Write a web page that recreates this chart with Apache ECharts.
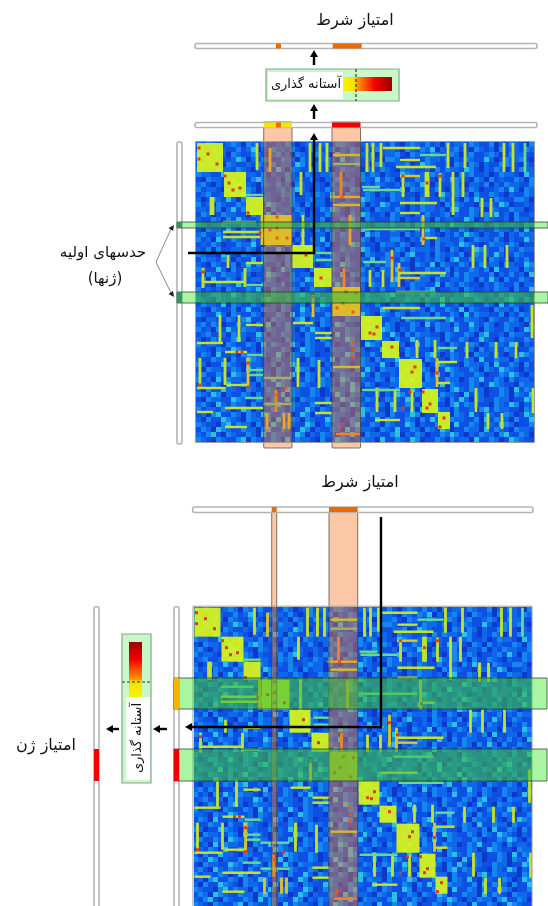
<!DOCTYPE html>
<html><head><meta charset="utf-8">
<style>html,body{margin:0;padding:0;background:#fff}#c{width:548px;height:906px;filter:blur(0.7px)}</style>
<script src="https://cdn.jsdelivr.net/npm/echarts@6/dist/echarts.min.js"></script>
</head><body><div id="c"></div>
<script>
// ---------- data ----------
const heatRows = [
"21321123203213112132012312213321021322131023213120312213211302132103",
"12032211312402132213101321230213212031221032132402123110321203122132",
"32113203211321023120321132104213221301223103221321132023112320132211",
"20312112430213211322031112320412312210332012113221302132114201322310",
"13221032112132031221431021322110312032112230143211203213202113321021",
"21103221321021314203211321201322103113210322112031322143102132011322",
"32211420132213021132103212231021131320211432120322110323112013221042",
"10322113021343112032211310223112032141320211323102143210320312113203",
"23102113422103213120321121031322012132112032143021123102213021322113",
"31221032113202112313421021322103211320211403221131023213201123142032",
"12311203243102211323012132141032113202132211023104213220311321021132",
"20132142031123210213112322031021143211032212032113122031421032113320",
"31203211321021432113203122011322130214311202132210313211032214301121",
"22113024132112031221320113243102112032213102132212034113210321132201",
"13201322110321403212130211322103143112032210213112302113203241203112",
"21132031421120321132102213011324203211132021132031221143013211203221",
"32011321132201341321120312203114321022131120321132042211320131221032",
"10322142031121320213211031322012143021132210314203211320121132213041",
"23113201132214032112031122031321104231122031213210213143202113021322",
"31204213210312311320211324031221132021133102142032211301322131021142",
"12132011322410321132031221301214321103221320112031221432101322132011",
"21303112213203114203212132011322143102113203222131032011432113021322",
"32110421032113220132114320132121103211322034112032121301322142013211",
"13221320211403221131021322132031121402311320212132034113220321102131",
"21032113024132112032113201221432113021322110321403211320131220321143",
"32114203113221301422110321132021131203214320113221302113213041122032",
"10321322132011432103122011321403221130213221032114203132211302131204",
"23041132031221320113214321032112032211134021322031122132031420311321",
"12103221421103221302131203114213220321132013221140321321102132113022",
"31212032113241032113201322103114320213112203213401122032112132203114",
"20133114203211032121342031121132203112341022130321102143211203132210",
"32103212113203421021322103113204213221301132203114032211320121342031",
"13221403211320121322130214311203221131021322103214112032113204132112",
"21032113024113220321142032113201322114301213220311321403211032213012",
"32114203211320113204132211320132142103213201122031132041322113021322",
"10221132034112032211340213211032214301122032113210341132210321132031",
"23132011322031402132113203214311032211320113204132203114213201322103",
"31203142132210321132031421021132203114320213112032214113203211320143",
"12311203221143021322103211304132113202142031322110321132034112032211",
"20132113420132211032113203212143102132203114213220311320142103221132",
"31221032113204132114203211320113204321132201413221032113201322143021",
"22103214311203211320143211032211320114320132211032141132031221320113",
"13204112032213114203213201122143021311322032113420132110322131021432",
"21132203114321023113201322140321132031224113203211032132041132203112",
"32011432103221130214311320211320132214103211320143211032213041132031",
"10322113204132103211432012132210314203221130132011432113203214321021",
"23113204321132203114203211301322142031121320213141032211320113243102",
"31204132211032141320113203221431021132032114203211322013241132031221",
"12132041132203114321032113220314213201122031132214032113201432110322",
"20311422103211320143211320132214301132203114203211034213220113204132",
"32143021132031221403211320114203221130214311320213221041320113203214",
"10322114320132031142032211301432113201322143021132031420321132201143",
"23104213220311324103211320132014321132041132203211034132211032143021",
"31221320143021132203114203211320143211032213041132203112034132211032",
"12034113203214311320143021132210341322031124301132203214103211320143",
"20311432103221304113203211432013221140321132031421032211304132203114",
"32110341322031142032114301322103411320321143021132204113203214320113",
"13204321132203411320143021132041322103214113203214301132204132103221",
"21341032113204132211430213220314103221134021320113243102132203411320",
"32103211340321132041322103114320132204113214301132031220411320143211"
];
// diagonal clusters: condition from, gene from, condition to, gene to
const clusterBlocks = [
[1,1,27,30],[28,30,50,55],[50,55,67,73],[68,73,96,103],[96,103,117,126],[118,126,136,145],
[136,145,164,174],[165,174,186,198],[186,199,203,216],[203,217,226,246],[226,247,242,271],[242,270,254,287]
];
// vertical streaks: condition, gene from, gene to, level
const verticalStreaks = [
[61,1,28,6],[74,6,30,7],[105,30,53,6],[114,1,30,6],[124,1,30,6],[131,1,30,6],[145,30,55,8],[171,1,30,6],[177,1,30,6],[185,1,25,6],
[207,33,55,6],[230,30,55,6],[232,30,55,6],[244,31,55,6],[257,30,73,6],[267,30,55,6],[252,1,26,6],[269,1,26,6],[308,1,30,6],[317,1,30,6],[329,1,30,5],
[15,55,73,6],[17,55,73,6],[286,56,75,6],[295,56,75,6],[107,73,103,6],[154,73,103,7],[227,73,103,7],[277,103,126,6],[289,103,126,6],[311,103,126,6],
[32,113,126,6],[49,126,145,6],[7,126,146,6],[148,126,145,8],[174,128,145,6],[187,128,145,6],[196,108,140,7],[203,121,145,7],[66,73,103,7],
[24,173,200,6],[43,173,200,6],[117,153,175,7],[4,216,245,6],[29,216,243,6],[52,216,245,7],[102,216,245,6],[123,218,246,6],[221,198,216,6],[239,198,216,6],
[241,216,245,7],[271,200,216,6],[300,200,216,6],[320,200,216,6],[336,163,196,6],[337,246,271,6],[280,246,270,6],[80,248,270,8],[181,246,270,6],[199,248,270,6],
[216,248,270,6],[292,271,287,6],[306,271,287,6],[71,271,287,7],[88,271,287,7],[93,271,287,7]
];
// horizontal streaks: gene, condition from, condition to, level
const horizontalStreaks = [
[6,187,224,6],[18,204,224,6],[13,224,250,5],[25,200,240,6],[34,204,224,7],[48,167,204,5],[45,166,184,5],[55,134,164,7],[63,137,164,6],[61,204,241,6],[71,204,224,6],
[90,27,64,6],[95,27,64,6],[53,50,67,5],[87,167,224,5],[96,227,241,6],[121,50,67,6],[131,204,250,6],[136,204,224,7],[111,120,136,5],[118,120,136,5],[140,7,49,6],[143,49,67,5],
[13,137,164,6],[22,137,164,5],[166,187,224,6],[181,97,117,6],[183,50,67,6],[201,1,27,6],[210,29,51,6],[213,51,67,5],[191,119,136,6],[196,119,136,6],[225,137,164,6],
[246,1,29,6],[243,31,52,6],[233,53,67,5],[256,49,67,5],[261,119,136,6],[271,119,136,6],[270,1,17,6],[266,29,67,6],[285,29,51,6],[278,179,204,6],[241,242,254,6],[206,242,261,5],
[220,242,261,6],[228,52,67,5],[248,166,204,5],[80,27,60,5],[120,167,190,5],[150,200,240,5],[176,205,250,5],[292,140,164,8],[236,67,96,5],[262,67,96,5]
];
// strongest cells: condition, gene
const hotCells = [
[3,6],[3,17],[29,34],[44,46],[37,48],[33,41],[81,75],[81,86],[81,96],[91,96],[74,88],[207,34],[231,41],[244,34],[146,55],[196,116],[204,128],[7,130],[52,71],[228,97],[64,91],
[181,185],[174,191],[216,230],[41,210],[46,210],[52,221],[117,155],[157,170],[141,166],[147,161],[244,285],[231,266],[227,250],[81,253],[144,285],[157,201],[157,208],[157,215],
[241,231],[214,250],[207,266],[4,243],[52,245],[12,12],[21,22],[150,150],[178,192],[196,205],[219,225],[234,262],[248,276],[125,136],[110,113],[90,246],[160,151]
];
// raw and thresholded condition scores: from, to, score
const conditionRaw = [[67.7,96,0.55],[80,85,0.8],[136,164.5,1]];
const conditionThresholded = [[80,85,0.8],[136.7,165.7,0.8]];
const conditionThresholdedLower = [[78.2,83.2,0.8],[135.5,164.2,0.8]];
const selectedConditionsTop = [[67.7,96],[136,164.5]];
const selectedConditionsLower = [[78.2,83.2],[135.5,164.2]];
const seedGenes = [[80,86],[150,161]];
const selectedGenes = [[71.3,102.3],[142.3,174.3]];
const geneRaw = [[71.3,102.3,0.7],[142.3,174.3,1]];
const geneThresholded = [[142.3,174.3,1]];
const texts = ["امتیاز شرط","آستانه گذاری","حدسهای اولیه","(ژنها)","امتیاز ژن"];

// ---------- styles ----------
const levelColors = ['#0e38cc','#0e50e4','#0e68ea','#1488ee','#2cc0e4','#68d890','#c4e428','#e4c420','#e88c20','#dc3c20'];
const scoreColor = s => s >= 1 ? '#f00000' : s >= 0.8 ? '#e86a08' : s >= 0.7 ? '#f5b400' : '#f5e400';
const CW = 338 / 68, CH = 300 / 60;
const baseCells = [];
heatRows.forEach((r, j) => { for (let i = 0; i < r.length; i++) baseCells.push([i, j, +r[i]]); });
const marks = [];
clusterBlocks.forEach(b => marks.push([b[0],b[1],b[2],b[3],10]));
verticalStreaks.forEach(v => marks.push([v[0]-1.4, v[1], v[0]+1.4, v[2], v[3]]));
horizontalStreaks.forEach(h => marks.push([h[1], h[0]-1.2, h[2], h[0]+1.2, h[3]]));
hotCells.forEach(c => marks.push([c[0]-1.5, c[1]-1.5, c[0]+1.5, c[1]+1.5, 9]));
const fillOf = l => l === 10 ? 'rgba(218,246,24,0.92)' : levelColors[l];

function cellSeries(p) {
  return { type:'custom', xAxisIndex:p, yAxisIndex:p, silent:true, animation:false, data:baseCells, z:1,
    renderItem(_, api) {
      const a = api.coord([api.value(0)*CW, api.value(1)*CH]), b = api.coord([(api.value(0)+1)*CW, (api.value(1)+1)*CH]);
      return {type:'rect', shape:{x:Math.round(a[0]),y:Math.round(a[1]),width:Math.round(b[0])-Math.round(a[0]),height:Math.round(b[1])-Math.round(a[1])}, style:{fill:levelColors[api.value(2)]}};
    }};
}
function markSeries(p) {
  return { type:'custom', xAxisIndex:p, yAxisIndex:p, silent:true, animation:false, data:marks, z:2,
    renderItem(_, api) {
      const a = api.coord([api.value(0), api.value(1)]), b = api.coord([api.value(2), api.value(3)]);
      return {type:'rect', shape:{x:a[0],y:a[1],width:b[0]-a[0],height:b[1]-a[1]}, style:{fill:fillOf(api.value(4))}};
    }};
}
function rectIn(api, x0, y0, x1, y1, style, r) {
  const a = api.coord([x0,y0]), b = api.coord([x1,y1]);
  return {type:'rect', shape:{x:a[0],y:a[1],width:b[0]-a[0],height:b[1]-a[1],r:r||0}, style};
}
const ORANGE = {fill:'rgba(248,124,40,0.42)', stroke:'rgba(70,60,60,0.7)', lineWidth:1};
const GREEN = {fill:'rgba(86,235,70,0.51)', stroke:'rgba(40,60,50,0.75)', lineWidth:1};
const GREEN_DEEP = {fill:'rgba(0,70,40,0.16)'};
const STRIP = {fill:'#fff', stroke:'#b4b4b4', lineWidth:1.6};
function overlaySeries(p, build) {
  return { type:'custom', xAxisIndex:p, yAxisIndex:p, silent:true, animation:false, data:[[0]], z:3, clip:false,
    renderItem(_, api) { return {type:'group', children:build(api)}; }};
}
const topOverlay = api => {
  const c = [];
  selectedConditionsTop.forEach(b => c.push(rectIn(api,b[0],-20,b[1],306,ORANGE,1)));
  c.push(rectIn(api,-0.5,-0.5,338.5,300.5,{fill:'none',stroke:'#9a9a9a',lineWidth:1}));
  c.push(rectIn(api,-1,-19.5,341,-14.5,STRIP,2));
  conditionRaw.forEach(s => c.push(rectIn(api,s[0],-19.5,s[1],-14.5,{fill:scoreColor(s[2])})));
  c.push(rectIn(api,-1,-98.5,341,-93.5,STRIP,2));
  conditionThresholded.forEach(s => c.push(rectIn(api,s[0],-98.5,s[1],-93.5,{fill:scoreColor(s[2])})));
  c.push(rectIn(api,-19,0,-14,302,STRIP,2));
  seedGenes.forEach(g => {
    c.push(rectIn(api,-19,g[0],352,g[1],GREEN));
    c.push(rectIn(api,0,g[0],338,g[1],GREEN_DEEP));
    c.push(rectIn(api,-19,g[0],-14,g[1],{fill:'#2e9a62'}));
  });
  return c;
};
const lowerOverlay = api => {
  const c = [];
  selectedConditionsLower.forEach(b => c.push(rectIn(api,b[0],-94.7,b[1],300,ORANGE,0)));
  c.push(rectIn(api,-0.5,-0.5,338.5,300.5,{fill:'none',stroke:'#9a9a9a',lineWidth:1}));
  c.push(rectIn(api,-0.8,-99.7,339.5,-94.2,STRIP,2));
  conditionThresholdedLower.forEach(s => c.push(rectIn(api,s[0],-99.7,s[1],-94.7,{fill:scoreColor(s[2])})));
  c.push(rectIn(api,-19.5,0,-14.5,305,STRIP,2));
  c.push(rectIn(api,-99.5,0,-94.5,305,STRIP,2));
  selectedGenes.forEach(g => {
    c.push(rectIn(api,-19.5,g[0],353.5,g[1],GREEN));
    c.push(rectIn(api,0,g[0],338,g[1],GREEN_DEEP));
  });
  geneRaw.forEach(g => c.push(rectIn(api,-19.5,g[0],-14.5,g[1],{fill:scoreColor(g[2])})));
  geneThresholded.forEach(g => c.push(rectIn(api,-99.5,g[0],-94.5,g[1],{fill:scoreColor(g[2])})));
  return c;
};

// ---------- annotation ----------
const FONT = '"DejaVu Sans"';
const txt = (t,x,y,size,rot) => ({type:'text', z:20, x, y, rotation:rot||0, style:{text:t,x:0,y:0,font:size+'px '+FONT,fill:'#111',align:'center',verticalAlign:'middle'}});
const line = (pts,w,col,dash) => ({type:'polyline', z:20, shape:{points:pts}, style:{stroke:col||'#000',lineWidth:w||2.4,fill:'none',lineDash:dash||null}});
const head = (x,y,dir,s) => {
  s = s||5;
  const m = {u:[[x,y],[x-s*.8,y+s*1.4],[x+s*.8,y+s*1.4]], l:[[x,y],[x+s*1.4,y-s*.8],[x+s*1.4,y+s*.8]]}[dir];
  return {type:'polygon', z:20, shape:{points:m}, style:{fill:'#000'}};
};
const tri = pts => ({type:'polygon', z:20, shape:{points:pts}, style:{fill:'#222'}});
const box = (x,y,w,h,fill,stroke,lw) => ({type:'rect', z:19, shape:{x,y,width:w,height:h}, style:{fill,stroke:stroke||null,lineWidth:lw||1}});
const gradH = {type:'linear',x:0,y:0,x2:1,y2:0,colorStops:[{offset:0,color:'#f8f400'},{offset:.25,color:'#f5e000'},{offset:.29,color:'#ff9a00'},{offset:.65,color:'#f40000'},{offset:1,color:'#9c0000'}]};
const gradV = {type:'linear',x:0,y:1,x2:0,y2:0,colorStops:[{offset:0,color:'#f8f400'},{offset:.28,color:'#f5e000'},{offset:.32,color:'#ff9a00'},{offset:.68,color:'#f40000'},{offset:1,color:'#9c0000'}]};
const graphics = [
  txt(texts[0],355,21,16),
  txt(texts[0],360,483,16),
  box(266,69,133,32,'#c8f8c8','#88a888',1.2),
  box(268,72,75,27,'#fff'),
  box(343,77,49,14,gradH),
  line([[356,69],[356,101]],1.2,'#333',[3,2]),
  txt(texts[1],306,85,13),
  line([[314,65],[314,55]]), head(314,50,'u'),
  line([[314,119],[314,109]]), head(314,104,'u'),
  line([[188,253],[314,253],[314,138]]), head(314,133,'u'),
  txt(texts[2],103,253,15),
  txt(texts[3],105,279,15),
  line([[171,229],[156,262],[171,293]],1,'#888'),
  tri([[174,225],[168.5,228],[173,231]]), tri([[174,297],[168.5,294],[173,291]]),
  line([[381,517],[381,727],[190,727]]), head(185,727,'l'),
  box(122,634,29,149,'#c8f8c8','#88a888',1.2),
  box(129,642,13,55,gradV),
  box(126,697,24,83,'#fff'),
  line([[122,682],[151,682]],1.2,'#333',[3,2]),
  txt(texts[1],138,738,13,Math.PI/2),
  line([[167,729],[158,729]]), head(153,729,'l'),
  line([[119,729],[111,729]]), head(106,729,'l'),
  txt(texts[4],46,746,16)
];

const chart = echarts.init(document.getElementById('c'), null, {renderer:'canvas'});
const grid = {left:0,top:0,width:548,height:906,containLabel:false};
const ax = (min,max,extra) => Object.assign({type:'value',min,max,show:false,splitLine:{show:false},gridIndex:0},extra||{});
chart.setOption({
  animation:false, backgroundColor:'#fff',
  grid:[grid,grid],
  xAxis:[ax(-196,352),ax(-193.5,354.5,{gridIndex:1})],
  yAxis:[ax(-142,764,{inverse:true}),ax(-606.7,299.3,{inverse:true,gridIndex:1})],
  series:[cellSeries(0),markSeries(0),overlaySeries(0,topOverlay),cellSeries(1),markSeries(1),overlaySeries(1,lowerOverlay)],
  graphic:{elements:graphics}
});
</script></body></html>
